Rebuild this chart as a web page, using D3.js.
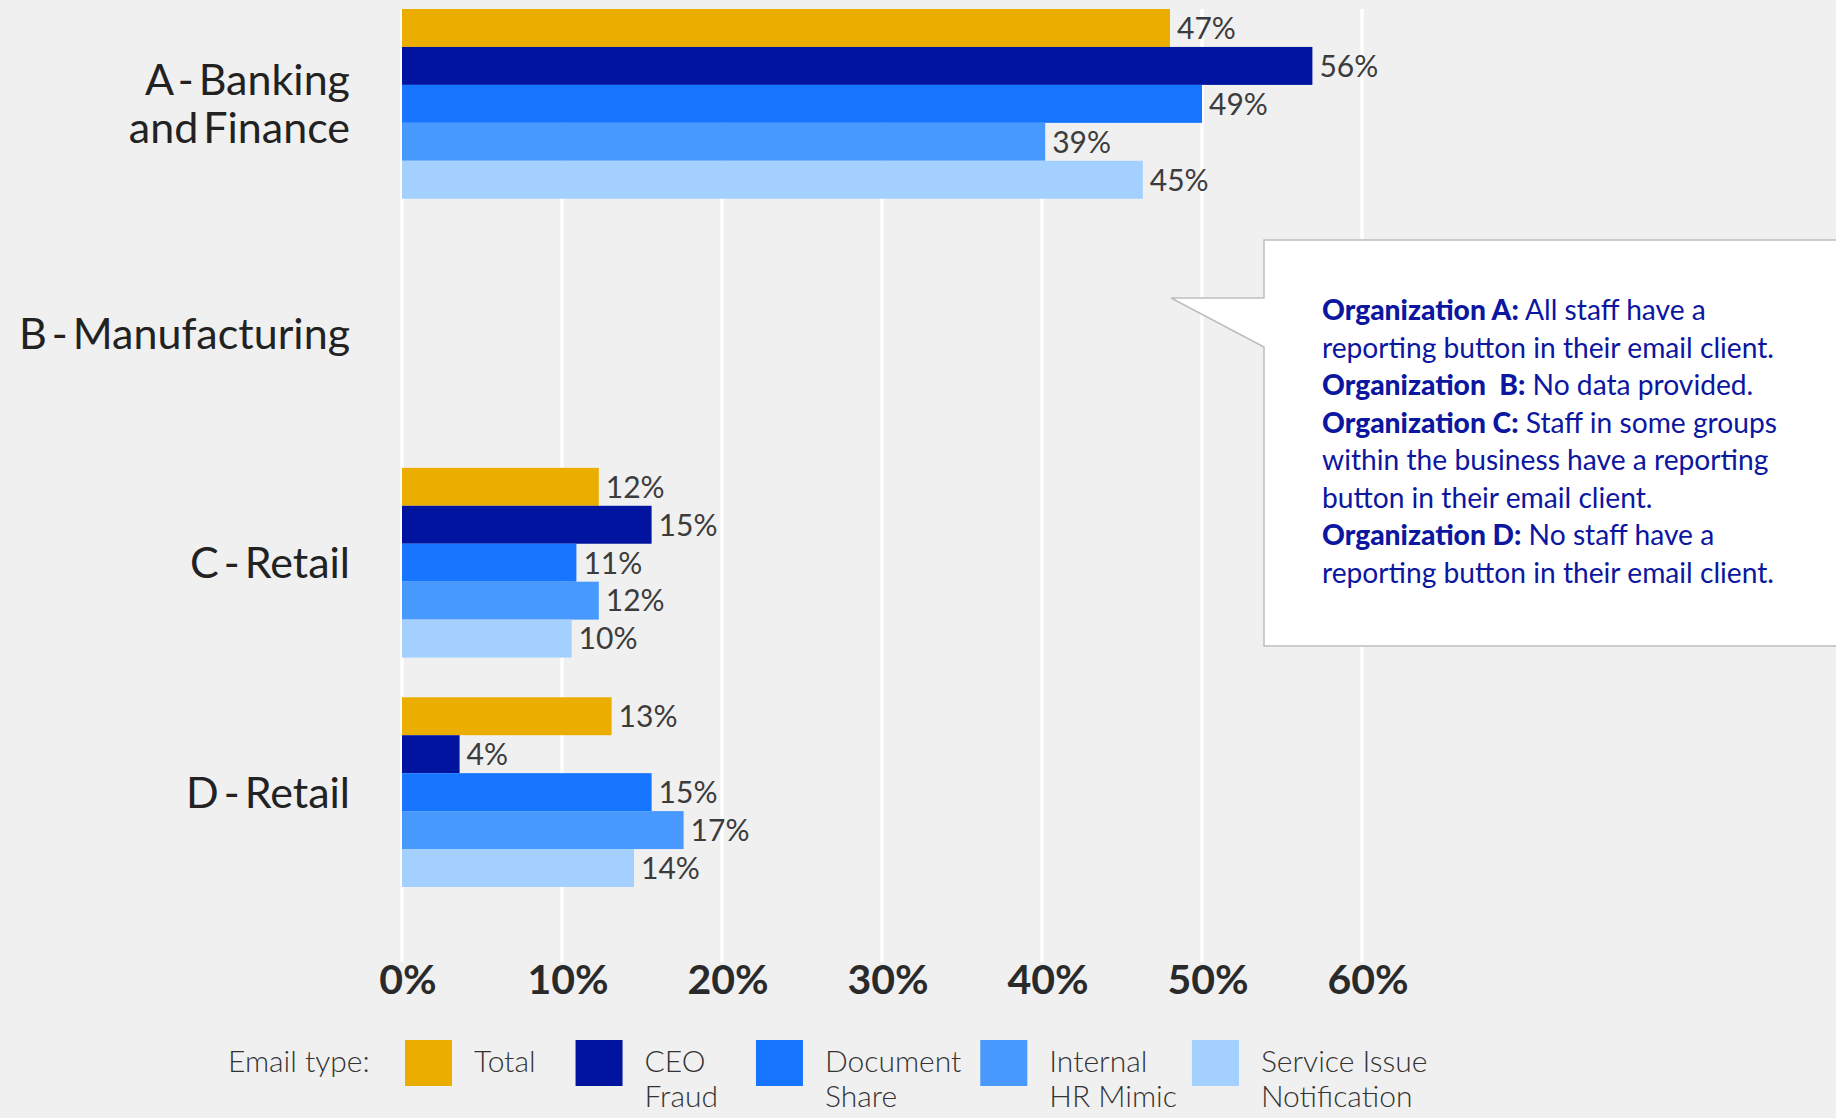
<!DOCTYPE html>
<html>
<head>
<meta charset="utf-8">
<script src="https://cdn.jsdelivr.net/npm/d3@7"></script>
<style>
  body { margin: 0; background: #f0f0f0; }
  svg { display: block; font-family: Lato, "Open Sans", sans-serif; }
</style>
</head>
<body>
<script>
// organisations (y categories) and their label lines
const groups = ['A', 'B', 'C', 'D'];
const groupLines = [['A - Banking', 'and Finance'], ['B - Manufacturing'], ['C - Retail'], ['D - Retail']];

// email types
const series = ['Total', 'CEO Fraud', 'Document Share', 'Internal HR Mimic', 'Service Issue Notification'];
const legendLines = [['Total'], ['CEO', 'Fraud'], ['Document', 'Share'], ['Internal', 'HR Mimic'], ['Service Issue', 'Notification']];
const colors = ['#ebae00', '#0014a0', '#1575ff', '#4799fd', '#a3d0fe'];

// bar lengths (B has no data)
const total = [48.0, null, 12.3, 13.1];
const ceoFraud = [56.9, null, 15.6, 3.6];
const documentShare = [50.0, null, 10.9, 15.6];
const internalHr = [40.2, null, 12.3, 17.6];
const serviceIssue = [46.3, null, 10.6, 14.5];

// value labels as printed
const totalLabels = ['47%', null, '12%', '13%'];
const ceoLabels = ['56%', null, '15%', '4%'];
const documentLabels = ['49%', null, '11%', '15%'];
const internalLabels = ['39%', null, '12%', '17%'];
const serviceLabels = ['45%', null, '10%', '14%'];

const xTicks = [0, 10, 20, 30, 40, 50, 60];

const noteLines = [
  ['Organization A:', ' All staff have a'],
  ['', 'reporting button in their email client.'],
  ['Organization\u00a0 B:', ' No data provided.'],
  ['Organization C:', ' Staff in some groups'],
  ['', 'within the business have a reporting'],
  ['', 'button in their email client.'],
  ['Organization D:', ' No staff have a'],
  ['', 'reporting button in their email client.']
];

const seriesValues = [total, ceoFraud, documentShare, internalHr, serviceIssue];
const seriesLabels = [totalLabels, ceoLabels, documentLabels, internalLabels, serviceLabels];

const width = 1836, height = 1118;

const svg = d3.select('body').append('svg')
  .attr('width', width).attr('height', height);

svg.append('rect').attr('width', width).attr('height', height).attr('fill', '#f0f0f0');

const x = d3.scaleLinear().domain([0, 60]).range([402, 1362]);
const y = d3.scaleBand().domain(groups).range([9, 887]).paddingInner(0.173);
const ySub = d3.scaleBand().domain(series).range([0, y.bandwidth()]);

// grid lines
svg.append('g')
  .selectAll('line').data(xTicks).join('line')
  .attr('x1', d => x(d)).attr('x2', d => x(d))
  .attr('y1', 9).attr('y2', 962)
  .attr('stroke', '#fff').attr('stroke-width', 3.5);

// x tick labels
svg.append('g')
  .selectAll('text').data(xTicks).join('text')
  .attr('x', d => x(d) + 6).attr('y', 994)
  .attr('text-anchor', 'middle')
  .attr('font-size', 41).attr('font-weight', 700).attr('fill', '#2a2a2a')
  .text(d => d + '%');

// bars
const rows = [];
groups.forEach((g, gi) => {
  series.forEach((s, si) => {
    const v = seriesValues[si][gi];
    if (v != null) rows.push({ g, s, v, c: colors[si], label: seriesLabels[si][gi] });
  });
});

const bars = svg.append('g');
bars.selectAll('rect').data(rows).join('rect')
  .attr('x', x(0))
  .attr('y', d => y(d.g) + ySub(d.s))
  .attr('width', d => x(d.v) - x(0))
  .attr('height', ySub.bandwidth())
  .attr('fill', d => d.c);

bars.selectAll('text').data(rows).join('text')
  .attr('x', d => x(d.v) + 7)
  .attr('y', d => y(d.g) + ySub(d.s) + ySub.bandwidth() / 2)
  .attr('dy', '0.36em')
  .attr('font-size', 30).attr('fill', '#3c3c3c')
  .text(d => d.label);

// group labels
const gl = svg.append('g').selectAll('text').data(groups).join('text')
  .attr('text-anchor', 'end')
  .attr('font-size', 43).attr('fill', '#222')
  .attr('word-spacing', -6)
  .attr('x', 350)
  .attr('y', (d, i) => y(d) + y.bandwidth() / 2 - (groupLines[i].length - 1) * 24);
gl.selectAll('tspan').data((d, i) => groupLines[i]).join('tspan')
  .attr('x', 350)
  .attr('dy', (d, i) => i === 0 ? '0.36em' : 48)
  .text(d => d);

// callout box
const box = { left: 1264, top: 240, bottom: 646, right: width + 5, tipX: 1171, tipY: 298, lowY: 347 };
svg.append('path')
  .attr('d', `M${box.left},${box.top}H${box.right}V${box.bottom}H${box.left}V${box.lowY}L${box.tipX},${box.tipY}H${box.left}Z`)
  .attr('fill', '#fff').attr('stroke', '#bdbdbd').attr('stroke-width', 1.5);

const note = svg.append('text')
  .attr('font-size', 28.2).attr('fill', '#0c169f');
noteLines.forEach((ln, i) => {
  const t = note.append('tspan').attr('x', 1322).attr('y', 310 + i * 37.5).attr('dy', '0.36em');
  t.append('tspan').attr('font-weight', 900).text(ln[0]);
  t.append('tspan').text(ln[1]);
});

// legend
const legendGaps = [40, 38, 19, 15];
const legend = svg.append('g').attr('font-size', 30).attr('fill', '#333').attr('font-weight', 300);
legend.append('text').attr('x', 228).attr('y', 1061).attr('dy', '0.36em').text('Email type:');
let lx = 405;
series.forEach((s, i) => {
  legend.append('rect')
    .attr('x', lx).attr('y', 1040).attr('width', 47).attr('height', 46)
    .attr('fill', colors[i]);
  const txt = legend.append('text');
  legendLines[i].forEach((line, j) => {
    txt.append('tspan').attr('x', lx + 69).attr('y', 1061 + j * 35).attr('dy', '0.36em').text(line);
  });
  lx = lx + 69 + txt.node().getBBox().width + (legendGaps[i] || 0);
});
</script>
</body>
</html>
